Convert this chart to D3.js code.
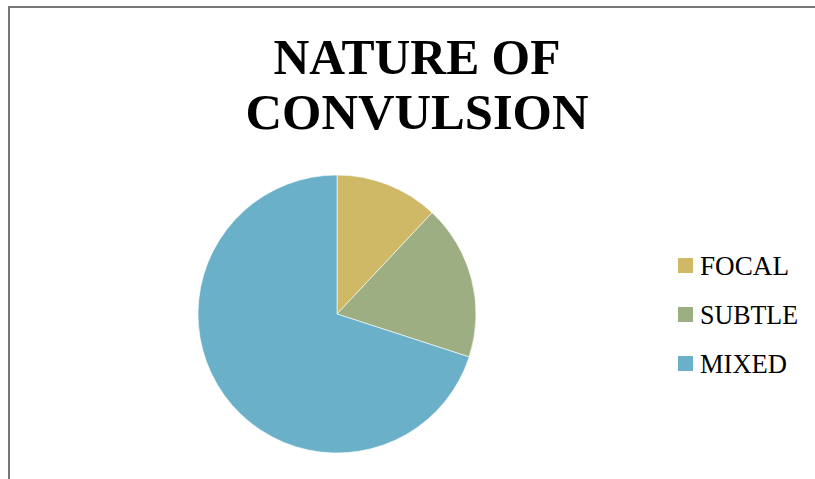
<!DOCTYPE html>
<html><head><meta charset="utf-8">
<script src="https://cdn.jsdelivr.net/npm/d3@7"></script>
<style>html,body{margin:0;padding:0;background:#fff;}svg{display:block;}</style>
</head><body>
<svg id="c" width="815" height="479"></svg>
<script>
const categories = ["FOCAL", "SUBTLE", "MIXED"];
const values = [12, 18, 70];
const colors = ["#CFB966", "#9DAF82", "#6AB0C9"];
const titleLines = ["NATURE OF", "CONVULSION"];

const svg = d3.select("#c");
svg.append("rect").attr("x", 0).attr("y", 0).attr("width", 815).attr("height", 479).attr("fill", "#fff");
// frame
svg.append("path").attr("d", "M9,479 L9,7 L815,7").attr("fill", "none").attr("stroke", "#777").attr("stroke-width", 2);

const serif = "'Liberation Serif', 'Times New Roman', serif";
const titleWidths = [287, 343];
const title = svg.append("text").attr("text-anchor", "middle")
  .attr("font-family", serif)
  .attr("font-weight", "bold").attr("font-size", 51).attr("fill", "#000");
titleLines.forEach((t, i) => title.append("tspan").attr("x", 417).attr("y", 74 + i * 55)
  .attr("textLength", titleWidths[i]).attr("lengthAdjust", "spacingAndGlyphs").text(t));

const cx = 337, cy = 314, r = 139;
const pie = d3.pie().sort(null).value(d => d)(values);
const arc = d3.arc().innerRadius(0).outerRadius(r);
svg.append("g").attr("transform", `translate(${cx},${cy})`)
  .selectAll("path").data(pie).join("path")
  .attr("d", arc).attr("fill", (d, i) => colors[i])
  .attr("stroke", "#fff").attr("stroke-width", 0.6);

const legendWidths = [89, 98, 87];
const lg = svg.append("g");
categories.forEach((c, i) => {
  const y = 265.5 + i * 49;
  lg.append("rect").attr("x", 678).attr("y", y - 7.5).attr("width", 15).attr("height", 15).attr("fill", colors[i]);
  lg.append("text").attr("x", 700).attr("y", y + 9)
    .attr("font-family", serif)
    .attr("font-size", 27).attr("fill", "#000")
    .attr("textLength", legendWidths[i]).attr("lengthAdjust", "spacingAndGlyphs").text(c);
});
</script>
</body></html>
